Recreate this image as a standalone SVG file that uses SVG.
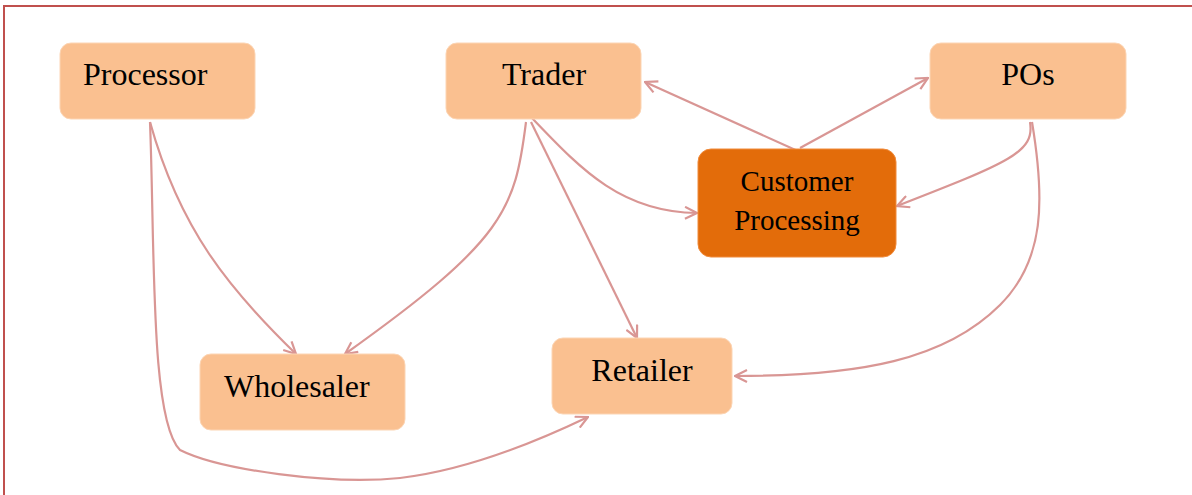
<svg xmlns="http://www.w3.org/2000/svg" width="1192" height="495" viewBox="0 0 1192 495">
<style>
.node{fill:#FAC090;stroke:#FCD5B4;stroke-width:1}
.dark{fill:#E36C0A;stroke:#F08A3A;stroke-width:1}
.lbl{font-family:'Liberation Serif','DejaVu Serif',serif;font-size:32px;fill:#000}
.lbl2{font-family:'Liberation Serif','DejaVu Serif',serif;font-size:29px;fill:#000;text-anchor:middle}
.c{fill:none;stroke:#D99694;stroke-width:2.2;marker-end:url(#ah)}
</style>
<defs>
<marker id="ah" viewBox="0 0 14 14" refX="13" refY="7" markerWidth="14" markerHeight="14" markerUnits="userSpaceOnUse" orient="auto">
<path d="M1,1 L13,7 L1,13" fill="none" stroke="#D99694" stroke-width="2.2"/>
</marker>
</defs>
<rect x="0" y="0" width="1192" height="495" fill="#fff"/>
<path d="M4,495 L4,6 L1192,6" fill="none" stroke="#C0504D" stroke-width="2"/>
<g id="connectors">
<path class="c" d="M150,122 C180,230 230,290 296,354"/>
<path class="c" d="M150,122 C155,250 150,420 180,450 C220,470 330,485 400,478 C470,470 540,440 588,417"/>
<path class="c" d="M526,122 C515,210 505,240 345,354"/>
<path class="c" d="M532,118 C580,168 620,212 697,213"/>
<path class="c" d="M531,122 L637,338"/>
<path class="c" d="M800,152 L645,82"/>
<path class="c" d="M800,148 L928,78"/>
<path class="c" d="M1030,122 C1035,152 1010,162 897,206"/>
<path class="c" d="M1032,122 C1045,200 1045,260 1000,305 C945,360 860,376 735,376"/>
</g>
<g id="processor"><rect class="node" x="60" y="43" width="195" height="76" rx="11"/><text class="lbl" x="83" y="85">Processor</text></g>
<g id="trader"><rect class="node" x="446" y="43" width="195" height="76" rx="11"/><text class="lbl" x="544" y="85" text-anchor="middle">Trader</text></g>
<g id="pos"><rect class="node" x="930" y="43" width="196" height="76" rx="11"/><text class="lbl" x="1028" y="85" text-anchor="middle">POs</text></g>
<g id="customer-processing"><rect class="dark" x="698" y="149" width="198" height="108" rx="13"/><text class="lbl2" x="797" y="191">Customer</text><text class="lbl2" x="797" y="230">Processing</text></g>
<g id="wholesaler"><rect class="node" x="200" y="354" width="205" height="76" rx="11"/><text class="lbl" x="224" y="397">Wholesaler</text></g>
<g id="retailer"><rect class="node" x="552" y="338" width="180" height="76" rx="11"/><text class="lbl" x="642" y="381" text-anchor="middle">Retailer</text></g>
</svg>
